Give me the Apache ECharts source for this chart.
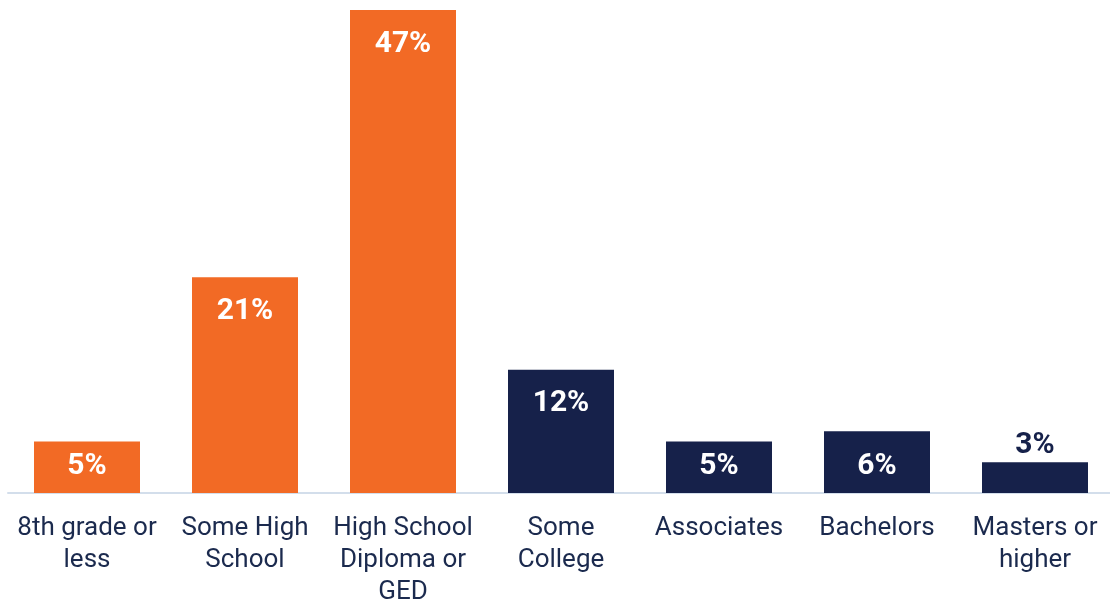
<!DOCTYPE html>
<html>
<head>
<meta charset="utf-8">
<script src="https://cdn.jsdelivr.net/npm/echarts@6/dist/echarts.min.js"></script>
<style>
  html, body { margin: 0; padding: 0; background: #ffffff; }
  #chart { width: 1110px; height: 600px; }
</style>
</head>
<body>
<div id="chart"></div>
<script>
// Education level categories (line breaks as shown on the axis)
const categories = [
  '8th grade or\nless',
  'Some High\nSchool',
  'High School\nDiploma or\nGED',
  'Some\nCollege',
  'Associates',
  'Bachelors',
  'Masters or\nhigher'
];
// Share of respondents, percent
const values = [5, 21, 47, 12, 5, 6, 3];
// Groups: high school or less vs. some college and above
const highlight = [true, true, true, false, false, false, false];

const ORANGE = '#f26a25';
const NAVY = '#16214a';
const TEXT = '#1b2a4e';

const data = values.map((v, i) => {
  const item = {
    value: v,
    itemStyle: { color: highlight[i] ? ORANGE : NAVY }
  };
  if (v < 4) {
    // Too short for the label: put it above the bar
    item.label = { position: 'top', distance: 2, color: NAVY };
  } else if (v < 7) {
    // Short bar: anchor the label to the bottom of the bar
    item.label = { position: 'insideBottom', distance: 12 };
  }
  return item;
});

const chart = echarts.init(document.getElementById('chart'), null, { renderer: 'canvas' });
chart.setOption({
  animation: false,
  grid: {
    left: 8, width: 1106, top: 10, bottom: 107,
    containLabel: false,
    outerBoundsMode: 'none'
  },
  xAxis: {
    type: 'category',
    data: categories,
    axisLine: { show: true, lineStyle: { color: '#d3deeb', width: 2 } },
    axisTick: { show: false },
    axisLabel: {
      interval: 0,
      margin: 19,
      color: TEXT,
      fontFamily: 'Roboto',
      fontSize: 26,
      lineHeight: 32
    }
  },
  yAxis: {
    type: 'value',
    min: 0,
    max: 47,
    show: false,
    splitLine: { show: false }
  },
  series: [{
    type: 'bar',
    data: data,
    barWidth: 106,
    label: {
      show: true,
      position: 'insideTop',
      distance: 19,
      formatter: '{c}%',
      color: '#ffffff',
      fontFamily: 'Roboto',
      fontWeight: 'bold',
      fontSize: 30
    }
  }]
});
</script>
</body>
</html>
